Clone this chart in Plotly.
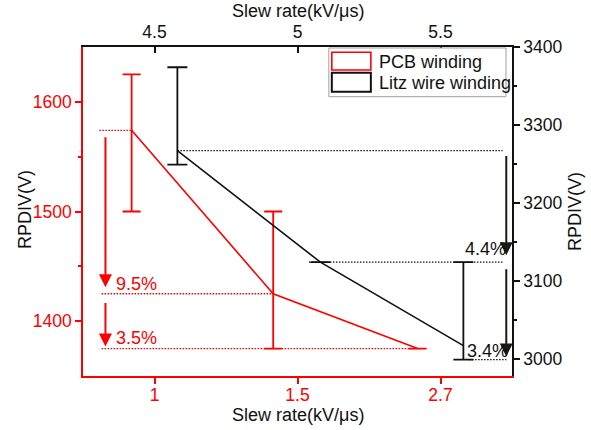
import plotly.graph_objects as go

# ---- data ----
bottom_ticks = [1, 2, 3]
bottom_labels = ["1", "1.5", "2.7"]
top_ticks = [4.5, 5.0, 5.5]

pcb_x = [0.84, 1.83, 2.84]          # position on bottom (PCB) axis
pcb_y = [1574, 1425, 1375]
pcb_err_plus = [51, 75, 0]
pcb_err_minus = [74, 50, 0]

litz_x = [4.58, 5.08, 5.58]         # position on top (Litz) axis
litz_y = [3267, 3124, 3017]
litz_err_plus = [107, 0, 107]
litz_err_minus = [18, 0, 18]

pcb_drop_labels = ["9.5%", "3.5%"]
litz_drop_labels = ["4.4%", "3.4%"]

x_title = "Slew rate(kV/μs)"
y_title = "RPDIV(V)"

RED = "#ff0000"
BLK = "#111111"
FONT = "Arial, Liberation Sans, sans-serif"
FS = 18
TFS = 17.5

fig = go.Figure()

# dotted reference lines (PCB)
pcb_ref_x0 = [0.615, 0.63, 0.63]
for x0, yv, x1 in zip(pcb_ref_x0, pcb_y, pcb_x):
    fig.add_trace(go.Scatter(x=[x0, x1], y=[yv, yv], mode="lines",
                             line=dict(color=RED, width=1.3, dash="1.5px,1.5px"),
                             showlegend=False, hoverinfo="skip",
                             xaxis="x", yaxis="y"))

# PCB series
fig.add_trace(go.Scatter(
    x=pcb_x, y=pcb_y, mode="lines", name="PCB winding",
    line=dict(color=RED, width=1.6),
    error_y=dict(type="data", symmetric=False, array=pcb_err_plus,
                 arrayminus=pcb_err_minus, color=RED, thickness=1.8, width=9),
    showlegend=False, xaxis="x", yaxis="y"))

# dotted reference lines (Litz)
litz_ref_x0 = [4.58, 5.04, 5.60]
litz_ref_y = [litz_y[0], litz_y[1], litz_y[2] - litz_err_minus[2]]
litz_ref_x1 = [5.717, 5.717, 5.73]
for x0, yv, x1 in zip(litz_ref_x0, litz_ref_y, litz_ref_x1):
    fig.add_trace(go.Scatter(x=[x0, x1], y=[yv, yv], mode="lines",
                             line=dict(color=BLK, width=1.3, dash="1.5px,1.5px"),
                             showlegend=False, hoverinfo="skip",
                             xaxis="x2", yaxis="y2"))

# Litz series
fig.add_trace(go.Scatter(
    x=litz_x, y=litz_y, mode="lines", name="Litz wire winding",
    line=dict(color=BLK, width=1.6),
    error_y=dict(type="data", symmetric=False, array=litz_err_plus,
                 arrayminus=litz_err_minus, color=BLK, thickness=1.8, width=10),
    showlegend=False, xaxis="x2", yaxis="y2"))

annotations = []
# red arrows
for (y0, y1) in [(1569, 1431), (1418, 1377)]:
    annotations.append(dict(x=0.657, y=y1, ax=0.657, ay=y0, xref="x", yref="y",
                            axref="x", ayref="y", text="", showarrow=True,
                            arrowhead=2, arrowsize=1.3, arrowwidth=2,
                            arrowcolor=RED))
for txt, yv in zip(pcb_drop_labels, [1434, 1385]):
    annotations.append(dict(x=0.72, y=yv, xref="x", yref="y", text=txt,
                            showarrow=False, xanchor="left", yanchor="middle",
                            font=dict(color=RED, size=FS, family=FONT)))
# black arrows
for (y0, y1) in [(3262, 3133), (3117, 3003)]:
    annotations.append(dict(x=5.73, y=y1, ax=5.73, ay=y0, xref="x2", yref="y2",
                            axref="x2", ayref="y2", text="", showarrow=True,
                            arrowhead=2, arrowsize=1.3, arrowwidth=2,
                            arrowcolor="#1a1a10"))
for txt, xv, yv in zip(litz_drop_labels, [5.577, 5.587], [3141, 3010]):
    annotations.append(dict(x=xv, y=yv, xref="x2", yref="y2", text=txt,
                            showarrow=False, xanchor="left", yanchor="middle",
                            font=dict(color=BLK, size=FS, family=FONT)))

# axis titles
for txt, xv, yv, ang in [(x_title, 0.501, 1.109, 0), (x_title, 0.501, -0.12, 0),
                         (y_title, -0.135, 0.505, -90), (y_title, 1.147, 0.499, -90)]:
    annotations.append(dict(x=xv, y=yv, xref="paper", yref="paper", text=txt,
                            textangle=ang, showarrow=False, xanchor="center",
                            yanchor="middle",
                            font=dict(color=BLK, size=FS, family=FONT)))

# custom legend
shapes = [
    dict(type="rect", xref="paper", yref="paper", x0=0.573, x1=0.986,
         y0=0.849, y1=0.997, line=dict(color="#a0a0a0", width=1),
         fillcolor="white", layer="above"),
    dict(type="rect", xref="paper", yref="paper", x0=0.580, x1=0.671,
         y0=0.930, y1=0.984, line=dict(color=RED, width=1.6), layer="above"),
    dict(type="rect", xref="paper", yref="paper", x0=0.580, x1=0.671,
         y0=0.864, y1=0.922, line=dict(color=BLK, width=2), layer="above"),
]
for txt, yv in [("PCB winding", 0.955), ("Litz wire winding", 0.891)]:
    annotations.append(dict(x=0.685, y=yv, xref="paper", yref="paper", text=txt,
                            showarrow=False, xanchor="left", yanchor="middle",
                            font=dict(color=BLK, size=FS, family=FONT)))

fig.update_layout(
    width=591, height=430,
    margin=dict(l=83, r=79, t=47, b=54, autoexpand=False),
    paper_bgcolor="white", plot_bgcolor="white",
    font=dict(family=FONT, size=FS, color=BLK),
    showlegend=False,
    xaxis=dict(range=[0.5, 3.5], tickvals=bottom_ticks, ticktext=bottom_labels,
               automargin=False, ticklabelstandoff=-4,
               showline=True, linecolor=RED, linewidth=1.5, ticks="outside",
               ticklen=6, tickwidth=1.5, tickcolor=RED, showgrid=False,
               zeroline=False, tickfont=dict(color=RED, size=TFS)),
    xaxis2=dict(range=[4.25, 5.75], tickvals=top_ticks, overlaying="x",
                automargin=False,
                side="top", anchor="y", showline=True, linecolor=BLK,
                linewidth=1.5, ticks="inside", ticklen=6, tickwidth=1.5,
                tickcolor=BLK, showgrid=False, zeroline=False,
                tickfont=dict(color=BLK, size=TFS)),
    yaxis=dict(range=[1350, 1650], tickvals=[1400, 1500, 1600], showline=True,
               automargin=False,
               linecolor=RED, linewidth=1.5, ticks="outside", ticklen=6,
               tickwidth=1.5, tickcolor=RED, showgrid=False, zeroline=False,
               tickfont=dict(color=RED, size=TFS),
               minor=dict(tickvals=[1450, 1550], ticks="outside", ticklen=3,
                          tickcolor=RED, tickwidth=1.5)),
    yaxis2=dict(range=[2978, 3400], tickvals=[3000, 3100, 3200, 3300, 3400],
                automargin=False,
                overlaying="y", side="right", anchor="x", showline=True,
                linecolor=BLK, linewidth=1.5, ticks="outside", ticklen=6,
                tickwidth=1.5, tickcolor=BLK, showgrid=False, zeroline=False,
                tickfont=dict(color=BLK, size=TFS),
                minor=dict(tickvals=[3050, 3150, 3250, 3350], ticks="outside",
                           ticklen=3, tickcolor=BLK, tickwidth=1.5)),
    annotations=annotations,
    shapes=shapes,
)

fig.write_html("out.html", config={"displayModeBar": False},
               post_script="document.body.style.margin='0';"
                           "document.body.style.overflow='hidden';")
